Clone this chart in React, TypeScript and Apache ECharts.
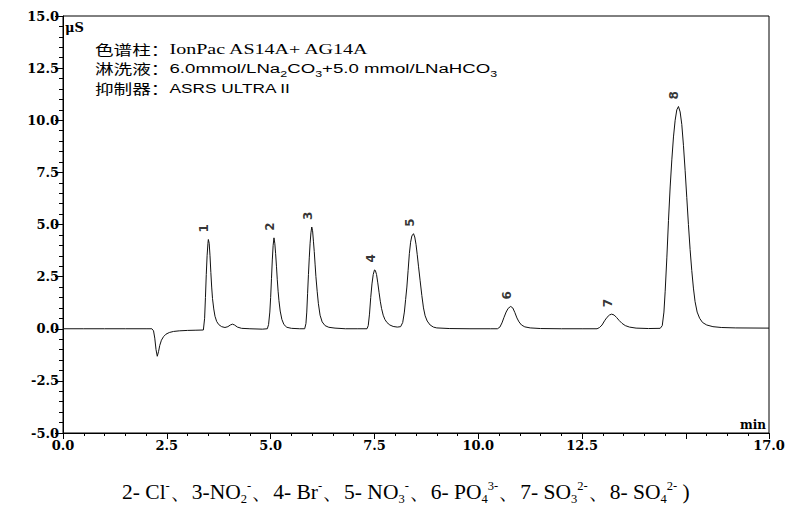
import React, { useEffect, useRef } from 'react';
import * as echarts from 'echarts';

// Chromatogram trace: [time (min), signal (μS)]
const baselineAndDip: [number, number][] = [
  [0, 0], [0.5, 0], [1.0, 0], [1.5, 0], [2.0, 0], [2.14, 0], [2.18, -0.1], [2.21, -0.45],
  [2.24, -1.0], [2.27, -1.32], [2.30, -1.1], [2.33, -0.8], [2.37, -0.55], [2.42, -0.38],
  [2.48, -0.26], [2.56, -0.18], [2.66, -0.13], [2.80, -0.1], [3.0, -0.08], [3.2, -0.07], [3.38, -0.06],
];
const peak1: [number, number][] = [
  [3.41, 0.5], [3.43, 1.5], [3.45, 2.6], [3.47, 3.5], [3.49, 4.1], [3.50, 4.28], [3.52, 4.1],
  [3.54, 3.5], [3.56, 2.7], [3.58, 2.0], [3.60, 1.45], [3.63, 0.95], [3.66, 0.6], [3.70, 0.35],
  [3.75, 0.2], [3.82, 0.1], [3.90, 0.06], [3.97, 0.1], [4.03, 0.18], [4.08, 0.22], [4.13, 0.18],
  [4.20, 0.08], [4.30, 0.02], [4.50, 0], [4.80, -0.02], [4.92, 0],
];
const peak2: [number, number][] = [
  [4.95, 0.2], [4.98, 0.8], [5.00, 1.5], [5.02, 2.4], [5.04, 3.3], [5.06, 4.0], [5.08, 4.36],
  [5.10, 4.1], [5.12, 3.6], [5.14, 3.0], [5.16, 2.35], [5.18, 1.8], [5.20, 1.35], [5.23, 0.85],
  [5.27, 0.45], [5.32, 0.2], [5.39, 0.07], [5.50, 0.02], [5.70, 0], [5.82, 0],
];
const peak3: [number, number][] = [
  [5.85, 0.25], [5.87, 0.8], [5.89, 1.7], [5.91, 2.6], [5.93, 3.4], [5.95, 4.1], [5.97, 4.6],
  [5.99, 4.88], [6.01, 4.7], [6.03, 4.2], [6.05, 3.7], [6.07, 3.1], [6.09, 2.5], [6.12, 1.8],
  [6.15, 1.2], [6.19, 0.65], [6.24, 0.33], [6.31, 0.15], [6.40, 0.07], [6.55, 0.03], [6.8, 0],
  [7.1, 0], [7.32, 0],
];
const peak4: [number, number][] = [
  [7.35, 0.15], [7.38, 0.7], [7.41, 1.5], [7.44, 2.15], [7.47, 2.6], [7.50, 2.82], [7.52, 2.8],
  [7.55, 2.6], [7.58, 2.2], [7.61, 1.75], [7.64, 1.32], [7.67, 0.98], [7.71, 0.65], [7.75, 0.45],
  [7.80, 0.3], [7.87, 0.18], [7.95, 0.11], [8.05, 0.08], [8.13, 0.1],
];
const peak5: [number, number][] = [
  [8.18, 0.3], [8.22, 0.8], [8.25, 1.4], [8.28, 2.0], [8.31, 2.8], [8.34, 3.6], [8.37, 4.15],
  [8.40, 4.45], [8.44, 4.56], [8.47, 4.4], [8.50, 4.05], [8.53, 3.55], [8.56, 3.0], [8.60, 2.3],
  [8.64, 1.6], [8.68, 1.0], [8.72, 0.62], [8.77, 0.37], [8.84, 0.18], [8.92, 0.08], [9.0, 0.04],
  [9.3, 0.01], [9.8, 0], [10.3, 0], [10.46, 0],
];
const peak6: [number, number][] = [
  [10.52, 0.08], [10.57, 0.28], [10.62, 0.55], [10.67, 0.8], [10.72, 0.98], [10.78, 1.07],
  [10.83, 1.0], [10.88, 0.78], [10.93, 0.52], [10.98, 0.33], [11.04, 0.18], [11.12, 0.09],
  [11.25, 0.04], [11.5, 0.01], [12.0, 0], [12.5, 0], [12.86, 0],
];
const peak7: [number, number][] = [
  [12.92, 0.06], [12.98, 0.18], [13.04, 0.38], [13.10, 0.55], [13.16, 0.66], [13.21, 0.70],
  [13.27, 0.66], [13.33, 0.54], [13.39, 0.4], [13.46, 0.26], [13.54, 0.15], [13.64, 0.08],
  [13.80, 0.03], [14.1, 0.01], [14.38, 0.02],
];
const peak8: [number, number][] = [
  [14.43, 0.15], [14.47, 0.8], [14.50, 1.8], [14.54, 3.4], [14.58, 5.2], [14.62, 6.8], [14.66, 8.1],
  [14.70, 9.2], [14.74, 10.0], [14.78, 10.5], [14.82, 10.66], [14.86, 10.4], [14.90, 9.8],
  [14.94, 8.8], [14.98, 7.6], [15.02, 6.3], [15.06, 5.0], [15.10, 3.8], [15.14, 2.8], [15.18, 1.95],
  [15.22, 1.3], [15.27, 0.8], [15.33, 0.5], [15.40, 0.3], [15.50, 0.18], [15.65, 0.1], [15.85, 0.06],
  [16.2, 0.04], [17.0, 0.03],
];

const peakNames = ['1', '2', '3', '4', '5', '6', '7', '8'];
const peakTimes = [3.50, 5.08, 5.99, 7.51, 8.44, 10.78, 13.21, 14.82];
const peakHeights = [4.28, 4.36, 4.88, 2.84, 4.56, 1.07, 0.70, 10.66];

const xLabelValues = [0, 2.5, 5, 7.5, 10, 12.5, 17];
const yLabelValues = [-5, -2.5, 0, 2.5, 5, 7.5, 10, 12.5, 15];

const annotationLines = [
  '{cn|色谱柱：}{se|IonPac AS14A+ AG14A}',
  '{cn|淋洗液：}{sa|6.0mmol/LNa}{sb|2}{sa|CO}{sb|3}{sa|+5.0 mmol/LNaHCO}{sb|3}',
  '{cn|抑制器：}{sc|ASRS ULTRA II}',
];
const captionText =
  '{t|2- Cl}{sp|-}{t|、3-NO}{sb|2}{sp|-}{t|、4- Br}{sp|-}{t|、5- NO}{sb|3}{sp|-}{t|、6- PO}{sb|4}{sp|3-}{t|、7- SO}{sb|3}{sp|2-}{t|、8- SO}{sb|4}{sp|2-}{t| )}';

const trace = [
  ...baselineAndDip, ...peak1, ...peak2, ...peak3, ...peak4, ...peak5, ...peak6, ...peak7, ...peak8,
];

const near = (list: number[], v: number) => list.some((a) => Math.abs(a - v) < 1e-6);

export default function App() {
  const ref = useRef<HTMLDivElement>(null);
  useEffect(() => {
    if (!ref.current) return;
    const chart = echarts.init(ref.current, undefined, { renderer: 'svg' });
    const labelFont = { fontFamily: 'DejaVu Serif', fontWeight: 'bold' as const, fontSize: 13, color: '#000' };
    const annRich = {
      cn: { fontFamily: 'Noto Sans CJK SC', fontSize: 13.5, fill: '#000', lineHeight: 20 },
      se: { font: '14.5px "Liberation Serif", serif', fontFamily: 'Liberation Serif', fontSize: 14.5, fill: '#000', lineHeight: 20 },
      sa: { fontFamily: 'Liberation Sans', fontSize: 13.5, fill: '#000', lineHeight: 20 },
      sc: { fontFamily: 'Liberation Sans', fontSize: 12.5, fill: '#000', lineHeight: 20 },
      sb: { fontFamily: 'Liberation Sans', fontSize: 9, fill: '#000', lineHeight: 12, verticalAlign: 'bottom' },
    };
    const capRich = {
      t: { fontFamily: 'Liberation Serif', fontSize: 21.5, fill: '#000', lineHeight: 26 },
      sp: { fontFamily: 'Liberation Serif', fontSize: 12.5, fill: '#000', lineHeight: 14, verticalAlign: 'top' },
      sb: { fontFamily: 'Liberation Serif', fontSize: 12.5, fill: '#000', lineHeight: 14, verticalAlign: 'bottom' },
    };
    chart.setOption({
      animation: false,
      backgroundColor: '#fff',
      grid: { left: 63, right: 24, top: 16, bottom: 77, show: true, borderColor: '#000', borderWidth: 1 },
      xAxis: {
        type: 'value', min: 0, max: 17, interval: 2.5,
        axisLine: { show: true, onZero: false, lineStyle: { color: '#000', width: 1 } },
        axisTick: { show: true, inside: false, length: 6, lineStyle: { color: '#000' } },
        minorTick: { show: true, splitNumber: 5, length: 3, lineStyle: { color: '#000' } },
        splitLine: { show: false },
        axisLabel: {
          ...labelFont, margin: 6, showMinLabel: true, showMaxLabel: true,
          formatter: (v: number) => (near(xLabelValues, v) ? v.toFixed(1) : ''),
        },
      },
      yAxis: {
        type: 'value', min: -5, max: 15, interval: 2.5,
        axisLine: { show: true, onZero: false, lineStyle: { color: '#000', width: 1 } },
        axisTick: { show: true, inside: false, length: 8, lineStyle: { color: '#000' } },
        minorTick: { show: true, splitNumber: 5, length: 4, lineStyle: { color: '#000' } },
        splitLine: { show: false },
        axisLabel: {
          ...labelFont, margin: 4, showMinLabel: true, showMaxLabel: true,
          formatter: (v: number) => (near(yLabelValues, v) ? v.toFixed(1) : ''),
        },
      },
      series: [
        {
          type: 'line', data: trace, showSymbol: false, symbol: 'none', smooth: false, silent: true,
          lineStyle: { color: '#111', width: 1 },
        },
        {
          type: 'scatter', data: peakTimes.map((t, i) => [t, peakHeights[i]]), symbolSize: 0, silent: true,
          label: {
            show: true, position: 'top', distance: 7, rotate: 90, align: 'left', verticalAlign: 'middle',
            offset: [0, -4],
            formatter: (p: any) => peakNames[p.dataIndex],
            fontFamily: 'DejaVu Sans', fontWeight: 'bold', fontSize: 12, color: '#000',
          },
        },
      ],
      graphic: [
        ...annotationLines.map((txt, i) => ({
          type: 'text', x: 95, y: 49 + i * 19.5, scaleX: 1.38,
          style: { text: txt, rich: annRich, align: 'left', verticalAlign: 'middle', fill: '#000' },
        })),
        {
          type: 'text', x: 65, y: 27,
          style: { text: 'μS', fontFamily: 'DejaVu Serif', fontWeight: 'bold', fontSize: 13, fill: '#000', align: 'left', verticalAlign: 'middle' },
        },
        {
          type: 'text', x: 766, y: 425,
          style: { text: 'min', fontFamily: 'DejaVu Serif', fontWeight: 'bold', fontSize: 12, fill: '#000', align: 'right', verticalAlign: 'middle' },
        },
        {
          type: 'text', x: 122, y: 492,
          style: { text: captionText, rich: capRich, align: 'left', verticalAlign: 'middle', fill: '#000' },
        },
      ],
    });
    return () => chart.dispose();
  }, []);
  return (
    <div
      ref={ref}
      style={{ position: 'absolute', left: 0, top: 0, width: 793, height: 510, background: '#fff' }}
    />
  );
}
